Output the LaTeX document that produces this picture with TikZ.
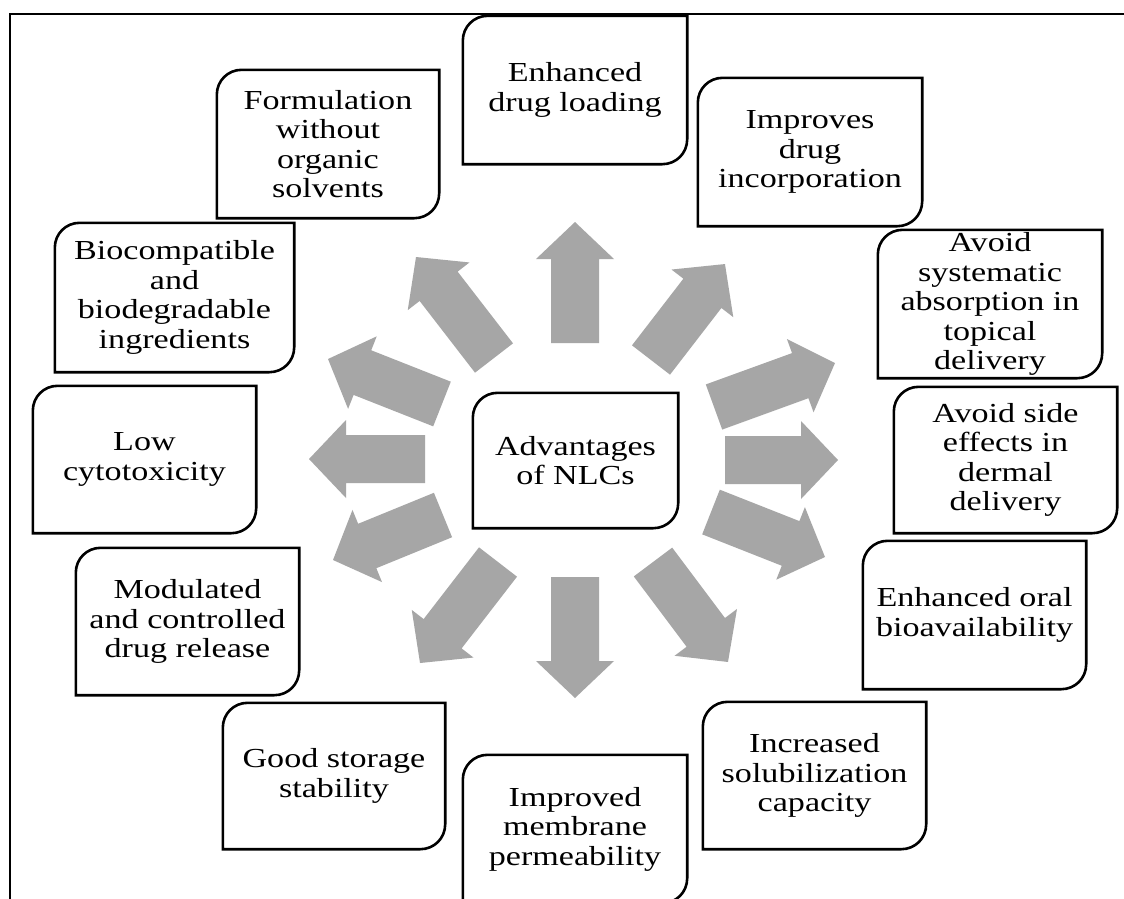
\documentclass[tikz,border=0pt]{standalone}
\usepackage{fontspec}
\setmainfont{Liberation Serif}[FakeStretch=1.24]
\usetikzlibrary{calc}
\definecolor{arrowgray}{RGB}{166,166,166}
\tikzset{
  boxtext/.style={align=center, inner sep=0pt, font=\fontsize{27.5}{29.5}\selectfont},
  boxline/.style={draw=black, line width=2.6pt},
  framelineb/.style={draw=black, line width=2.4pt},
  arrowfill/.style={fill=arrowgray}
}
% name, x1, y1, x2, y2, text
\newcommand\rbox[6]{%
  \node[boxtext, minimum width={#4-#2}, minimum height={#5-#3}] (#1) at ({(#2+#4)/2},{(#3+#5)/2}) {#6};
  \draw[boxline] ([yshift=-25pt]#1.north west) .. controls ([yshift=-11pt]#1.north west) and ([xshift=11pt]#1.north west) .. ([xshift=25pt]#1.north west) -- (#1.north east) -- ([yshift=25pt]#1.south east) .. controls ([yshift=11pt]#1.south east) and ([xshift=-11pt]#1.south east) .. ([xshift=-25pt]#1.south east) -- (#1.south west) -- cycle;
}
% base x, base y, tip x, tip y
\newcommand\bigarrow[4]{%
  \pgfmathsetmacro\arang{atan2(-(#4-#2),#3-#1)}%
  \pgfmathsetmacro\arlen{veclen(#3-#1,#4-#2)}%
  \begin{scope}[shift={(#1,#2)}, rotate=\arang]
    \fill[arrowfill] (0,-24) -- (\arlen-37,-24) -- (\arlen-37,-39) -- (\arlen,0) -- (\arlen-37,39) -- (\arlen-37,24) -- (0,24) -- cycle;
  \end{scope}}
\begin{document}
\begin{tikzpicture}[x=1pt,y=-1pt]
\useasboundingbox (0,0) rectangle (1124,898);
\clip (0,0) rectangle (1124,898);
\fill[white] (0,0) rectangle (1124,898);
\draw[framelineb] (10,900) -- (10,14) -- (1126,14);
% arrows
\bigarrow{575}{343}{575}{222}
\bigarrow{651}{360}{725}{264}
\bigarrow{714}{407}{835}{363}
\bigarrow{725}{460}{838}{460}
\bigarrow{711}{512}{825}{557}
\bigarrow{653}{562}{728}{662}
\bigarrow{575}{577}{575}{698}
\bigarrow{498}{562}{420}{663}
\bigarrow{443}{515}{333}{560}
\bigarrow{425}{459}{309}{459}
\bigarrow{442}{404}{328}{359}
\bigarrow{494}{358}{416}{257}
% boxes
\rbox{center}{473}{393}{678}{528}{Advantages\\of NLCs}
\rbox{formul}{217}{70}{439}{218}{Formulation\\without\\organic\\solvents}
\rbox{enhload}{463}{16}{687}{164}{Enhanced\\drug loading}
\rbox{improves}{698}{78}{922}{226}{Improves\\drug\\incorporation}
\rbox{avoidsys}{878}{230}{1102}{378}{Avoid\\systematic\\absorption in\\topical\\delivery}
\rbox{avoidside}{894}{387}{1117}{533}{Avoid side\\effects in\\dermal\\delivery}
\rbox{oral}{863}{541}{1086}{689}{Enhanced oral\\bioavailability}
\rbox{solub}{703}{702}{926}{849}{Increased\\solubilization\\capacity}
\rbox{membrane}{463}{755}{687}{903}{Improved\\membrane\\permeability}
\rbox{storage}{223}{703}{445}{849}{Good storage\\stability}
\rbox{modulated}{76}{548}{299}{695}{Modulated\\and controlled\\drug release}
\rbox{lowcyto}{33}{386}{256}{533}{Low\\cytotoxicity}
\rbox{biocomp}{55}{223}{294}{372}{Biocompatible\\and\\biodegradable\\ingredients}
\end{tikzpicture}
\end{document}
